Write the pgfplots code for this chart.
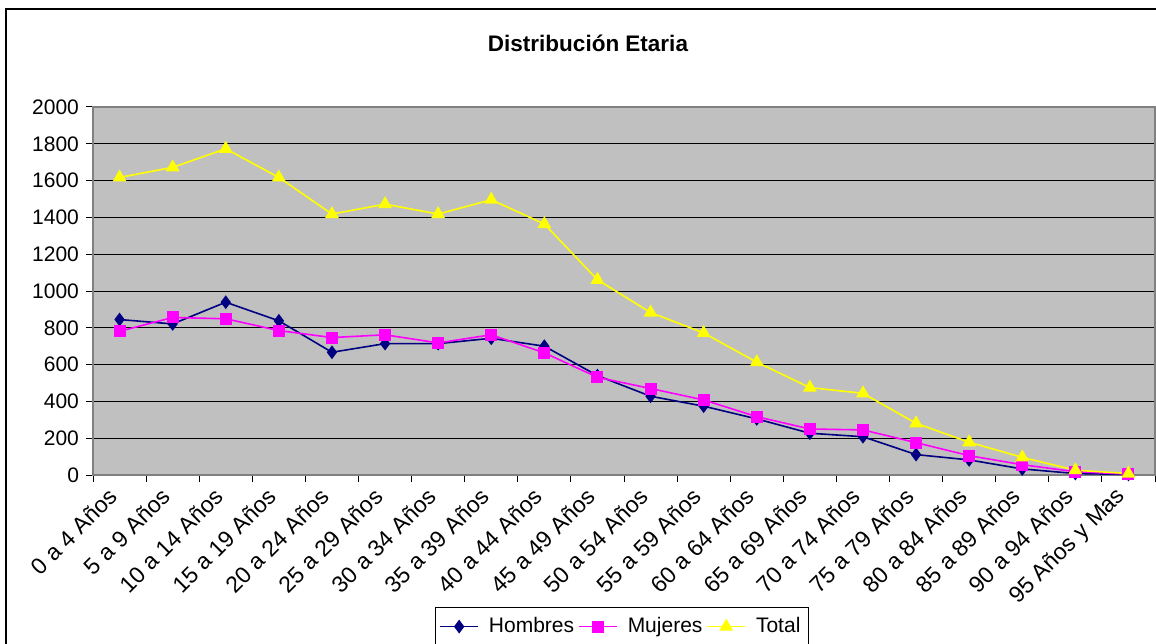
\documentclass[border=0pt]{standalone}
\usepackage{fontspec}
\setmainfont{Liberation Sans}
\usepackage{pgfplots}
\pgfplotsset{compat=1.18}
\definecolor{plotgray}{HTML}{C0C0C0}
\definecolor{axgray}{HTML}{808080}
\definecolor{hom}{HTML}{000080}
\definecolor{muj}{HTML}{FF00FF}
\definecolor{tot}{HTML}{FFFF00}
\begin{document}
\begin{tikzpicture}
\begin{axis}[
  at={(46.5pt,84pt)}, anchor=south west,
  scale only axis, width=531pt, height=184pt,
  xmin=-0.5, xmax=19.5, ymin=0, ymax=2000,
  ytick={0,200,...,2000},
  xtick={0,...,19},
  xticklabels={0 a 4 Años, 5 a 9 Años, 10 a 14 Años, 15 a 19 Años, 20 a 24 Años, 25 a 29 Años, 30 a 34 Años, 35 a 39 Años, 40 a 44 Años, 45 a 49 Años, 50 a 54 Años, 55 a 59 Años, 60 a 64 Años, 65 a 69 Años, 70 a 74 Años, 75 a 79 Años, 80 a 84 Años, 85 a 89 Años, 90 a 94 Años, 95 Años y Mas},
  major x tick style={draw=none},
  minor xtick={-0.5,0.5,...,19.5},
  xtick pos=left, ytick pos=left,
  ymajorgrids, grid style={black, line width=0.5pt},
  axis background/.style={fill=plotgray},
  axis line style={axgray, line width=0.75pt},
  tick align=outside, major tick length=3.5pt, minor tick length=3.5pt,
  tick style={black, line width=0.5pt},
  every tick label/.append style={font=\fontsize{10.5}{12}\selectfont},
  /pgf/number format/assume math mode=true,
  yticklabel style={/pgf/number format/1000 sep={}},
  xticklabel style={rotate=45, anchor=east, inner sep=0pt, font=\fontsize{11.5}{13}\selectfont, xshift=-6pt, yshift=-1.5pt},
  legend columns=3,
  legend style={at={(0.498,-0.3587)}, anchor=north, draw=black, line width=0.5pt, fill=white,
    font=\fontsize{10.5}{12}\selectfont, inner xsep=2pt, inner ysep=3pt,
    /tikz/every odd column/.append style={column sep=3pt}},
  legend image code/.code={\draw[mark repeat=2,mark phase=2] plot coordinates {(0pt,0pt) (9.5pt,0pt) (19pt,0pt)};},
  every axis plot/.append style={line width=0.8pt},
]
\addplot[hom, mark=diamond*, mark size=2.8pt, mark options={fill=hom, draw=hom}] coordinates {
(0,845) (1,821) (2,939) (3,838) (4,667) (5,714) (6,714) (7,743) (8,700) (9,540)
(10,428) (11,374) (12,305) (13,227) (14,208) (15,111) (16,82) (17,33) (18,8) (19,3)};
\addlegendentry{Hombres}
\addplot[muj, mark=square*, mark size=2.6pt, mark options={fill=muj, draw=muj}] coordinates {
(0,781) (1,856) (2,849) (3,785) (4,747) (5,762) (6,718) (7,762) (8,664) (9,531)
(10,470) (11,408) (12,317) (13,250) (14,245) (15,176) (16,105) (17,56) (18,18) (19,5)};
\addlegendentry{Mujeres}
\addplot[tot, mark=triangle*, mark size=3.2pt, mark options={fill=tot, draw=tot}] coordinates {
(0,1617) (1,1672) (2,1773) (3,1617) (4,1418) (5,1472) (6,1418) (7,1496) (8,1364) (9,1061)
(10,883) (11,772) (12,613) (13,475) (14,444) (15,281) (16,178) (17,96) (18,26) (19,8)};
\addlegendentry{Total}
\end{axis}
\node[font=\bfseries\fontsize{11.25}{13}\selectfont] at (294pt,300pt) {Distribución Etaria};
\draw[black, line width=0.75pt] (3pt,-10pt) rectangle (600pt,317pt);
\pgfresetboundingbox
\useasboundingbox (0,0) rectangle (578pt,321.5pt);
\end{tikzpicture}
\end{document}
